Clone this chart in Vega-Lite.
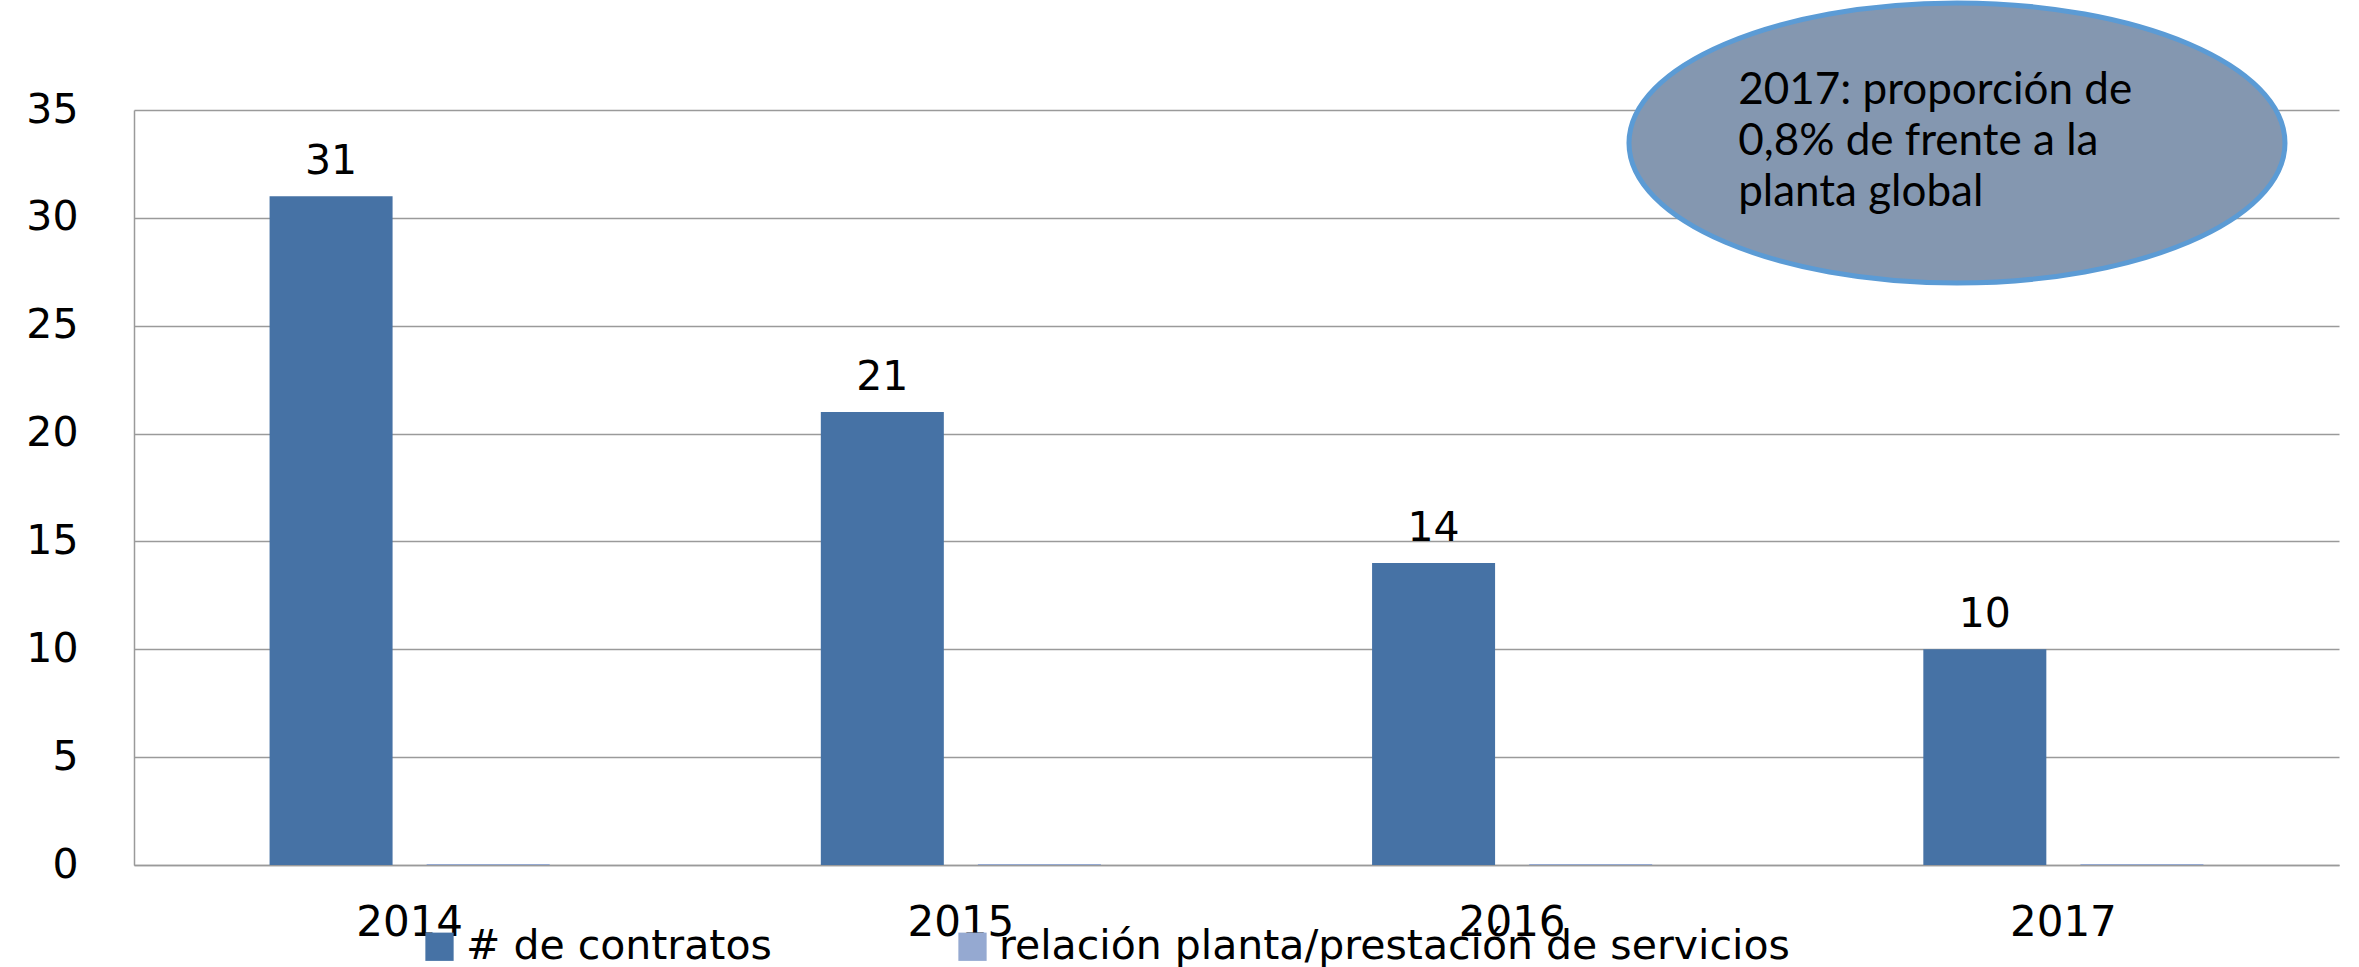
{
  "$schema": "https://vega.github.io/schema/vega-lite/v6.json",
  "width": 2205,
  "height": 755,
  "autosize": {"type": "none"},
  "padding": {"left": 134, "top": 110, "right": 20, "bottom": 102},
  "background": "white",
  "config": {
    "view": {"stroke": null},
    "font": "DejaVu Sans"
  },
  "datasets": {
    "bars": [
      {"year": "2014", "serie": "# de contratos", "value": 31},
      {"year": "2014", "serie": "relación planta/prestación de servicios", "value": 0.05},
      {"year": "2015", "serie": "# de contratos", "value": 21},
      {"year": "2015", "serie": "relación planta/prestación de servicios", "value": 0.05},
      {"year": "2016", "serie": "# de contratos", "value": 14},
      {"year": "2016", "serie": "relación planta/prestación de servicios", "value": 0.05},
      {"year": "2017", "serie": "# de contratos", "value": 10},
      {"year": "2017", "serie": "relación planta/prestación de servicios", "value": 0.05}
    ],
    "note": [
      {"year": "2017", "note": "2017: proporción de\n0,8% de frente a la\nplanta global"}
    ]
  },
  "layer": [
    {
      "data": {"name": "bars"},
      "mark": {"type": "bar"},
      "encoding": {
        "x": {
          "field": "year",
          "type": "ordinal",
          "scale": {"paddingInner": 0, "paddingOuter": 0},
          "axis": {
            "title": null,
            "labelAngle": 0,
            "labelFont": "DejaVu Sans",
            "labelFontSize": 42,
            "labelColor": "#000000",
            "labelPadding": 37,
            "ticks": false,
            "domainColor": "#9a9a9a",
            "domainWidth": 1.5,
            "grid": false
          }
        },
        "y": {
          "field": "value",
          "type": "quantitative",
          "scale": {"domain": [0, 35], "nice": false, "zero": true},
          "axis": {
            "title": null,
            "values": [0, 5, 10, 15, 20, 25, 30, 35],
            "labelFont": "DejaVu Sans",
            "labelFontSize": 41,
            "labelColor": "#000000",
            "labelPadding": 56,
            "labelAlign": "right",
            "labelBaseline": "middle",
            "ticks": false,
            "domainColor": "#9a9a9a",
            "domainWidth": 1.5,
            "grid": true,
            "gridColor": "#9a9a9a",
            "gridWidth": 1.5
          }
        },
        "xOffset": {
          "field": "serie",
          "type": "nominal",
          "sort": ["# de contratos", "relación planta/prestación de servicios"],
          "scale": {"paddingInner": 0.217, "paddingOuter": 0.863}
        },
        "color": {
          "field": "serie",
          "type": "nominal",
          "scale": {
            "domain": ["# de contratos", "relación planta/prestación de servicios"],
            "range": ["#4672A5", "#95A9D1"]
          },
          "legend": {
            "title": null,
            "orient": "none",
            "direction": "horizontal",
            "columns": 2,
            "legendX": 285,
            "legendY": 816,
            "padding": 0,
            "columnPadding": 180,
            "symbolType": "square",
            "symbolSize": 800,
            "symbolStrokeWidth": 0,
            "labelFont": "DejaVu Sans",
            "labelFontSize": 41,
            "labelColor": "#000000",
            "labelOffset": 6,
            "labelLimit": 2000
          }
        }
      }
    },
    {
      "data": {"name": "bars"},
      "transform": [{"filter": "datum.serie === '# de contratos'"}],
      "mark": {"type": "text", "font": "DejaVu Sans", "fontSize": 41, "color": "#000000", "baseline": "alphabetic", "align": "center", "dy": -22},
      "encoding": {
        "x": {"field": "year", "type": "ordinal"},
        "y": {"field": "value", "type": "quantitative"},
        "xOffset": {
          "field": "serie",
          "type": "nominal",
          "sort": ["# de contratos", "relación planta/prestación de servicios"],
          "scale": {"paddingInner": 0.217, "paddingOuter": 0.863}
        },
        "text": {"field": "value", "type": "quantitative"}
      }
    },
    {
      "data": {"name": "note"},
      "mark": {
        "type": "point",
        "shape": "M -1 0 C -1 -0.2357 -0.5523 -0.4268 0 -0.4268 C 0.5523 -0.4268 1 -0.2357 1 0 C 1 0.2357 0.5523 0.4268 0 0.4268 C -0.5523 0.4268 -1 0.2357 -1 0 Z",
        "size": 430336,
        "filled": true,
        "color": "#8497B0",
        "stroke": "#5B9BD5",
        "strokeWidth": 5,
        "opacity": 1
      },
      "encoding": {
        "x": {"field": "year", "type": "ordinal", "bandPosition": 0.307},
        "y": {"datum": 33.47, "type": "quantitative"}
      }
    },
    {
      "data": {"name": "note"},
      "mark": {"type": "text", "font": "Lato", "fontSize": 44, "color": "#000000", "align": "left", "baseline": "alphabetic", "lineBreak": "\n", "lineHeight": 51},
      "encoding": {
        "x": {"field": "year", "type": "ordinal", "bandPosition": -0.09},
        "y": {"datum": 35.3, "type": "quantitative"},
        "text": {"field": "note", "type": "nominal"}
      }
    }
  ]
}
